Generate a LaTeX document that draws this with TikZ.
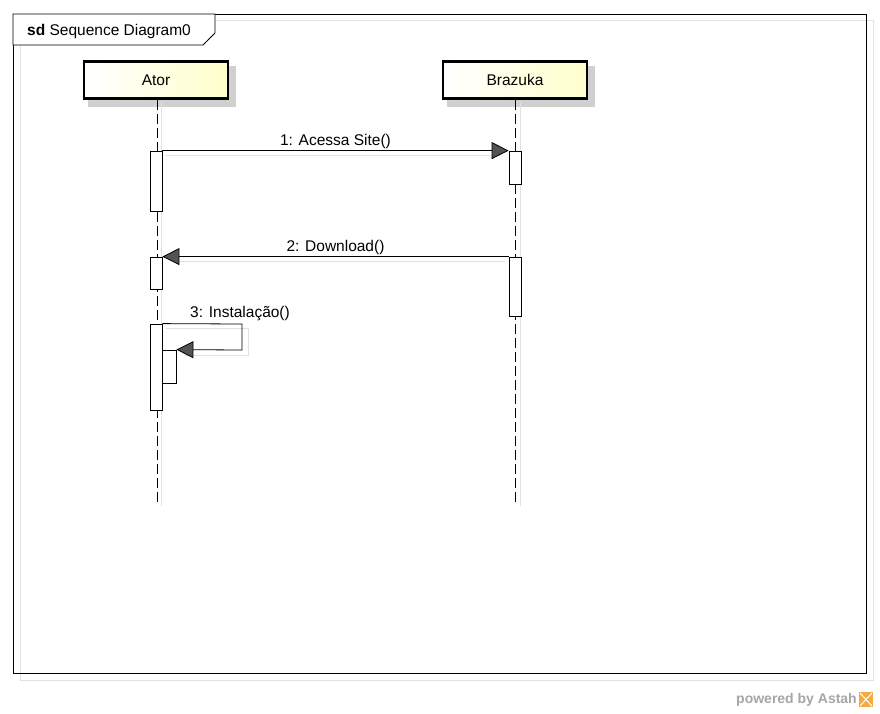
\documentclass[tikz,border=0pt]{standalone}
\usepackage{fontspec}
\setmainfont{Liberation Sans}
\usetikzlibrary{arrows.meta}
\definecolor{headyellow}{RGB}{255,255,204}
\definecolor{shadowgray}{RGB}{208,208,208}
\definecolor{faintgray}{RGB}{225,225,225}
\definecolor{astahorange}{RGB}{245,170,70}
\tikzset{
  head/.style={draw=black, line width=2.6pt, minimum width=144pt, minimum height=37pt,
    left color=white, right color=headyellow, inner sep=0pt, font=\fontsize{15.5}{17}\selectfont},
  headshadow/.style={fill=shadowgray, draw=none},
  act/.style={draw=black, fill=white, line width=0.8pt, minimum width=12pt, inner sep=0pt},
  lifeline/.style={draw=black, line width=0.8pt, dash pattern=on 10pt off 4pt},
  lifeshadow/.style={draw=faintgray, line width=0.8pt},
  msg/.style={draw=black, line width=0.8pt,
    -{Triangle[length=17pt, width=17pt, fill=gray!65!black]}},
  msgshadow/.style={draw=faintgray, line width=0.8pt},
  lbl/.style={font=\fontsize{15.5}{17}\selectfont, inner sep=1pt},
}
\begin{document}
\begin{tikzpicture}[x=1pt, y=-1pt]
\useasboundingbox (0,0) rectangle (880,713);

% frame with its shadow and the title tab
\draw[draw=faintgray, line width=0.8pt] (20,20) rectangle (873,680);
\draw[black, line width=0.8pt] (13,14) rectangle (866,673);
\draw[black, fill=white, line width=0.8pt] (13,14) -- (215,14) -- (215,33) -- (203,45) -- (13,45) -- cycle;
\node[anchor=west, inner sep=0pt, font=\fontsize{15.5}{17}\selectfont] (title) at (27,31) {\textbf{sd} Sequence Diagram0};

% lifeline heads
\fill[headshadow] (88,66) rectangle (236,107);
\fill[headshadow] (447,66) rectangle (595,107);
\node[head] (ator) at (156,80) {Ator};
\node[head] (braz) at (515,80) {Brazuka};

% lifelines
\coordinate (atorend) at (157,502);
\coordinate (brazend) at (515,502);
\draw[lifeshadow] (161,102) -- (161,506);
\draw[lifeshadow] (520,102) -- (520,506);
\draw[lifeline] (ator.south -| atorend) -- (atorend);
\draw[lifeline] (braz.south -| brazend) -- (brazend);

% activation bars
\node[act, minimum height=60pt] (a1) at (156,181) {};
\node[act, minimum height=33pt] (b1) at (515,167.5) {};
\node[act, minimum height=59pt] (b2) at (515,286.5) {};
\node[act, minimum height=32pt] (a2) at (156,273) {};
\node[act, minimum height=86pt] (a3) at (156,367) {};
\node[act, minimum width=14pt, minimum height=33pt] (a4) at (169,366.5) {};

% message shadows
\draw[msgshadow] (166,155) -- (500,155);
\draw[msgshadow] (175,261) -- (505,261);
\draw[msgshadow] (166,328) -- (248,328) -- (248,355) -- (185,355);

% messages
\draw[msg] (a1.north east) -- (b1.north west)
  node[lbl, pos=0.5, above] {1: Acessa Site()};
\draw[msg] (b2.north west) -- (a2.north east)
  node[lbl, pos=0.5, above] {2: Download()};
\coordinate (selfA) at (242,324);
\coordinate (selfB) at (242,350);
\draw[msg] (a3.north east) -- (selfA) -- (selfB) -- (a4.north east);
\node[lbl, anchor=south] (m3) at (240,322) {3: Instalação()};

% footer
\node[anchor=east, inner sep=0pt, text=gray!70, font=\fontsize{14}{16}\selectfont\bfseries] (powered) at (857,700) {powered by Astah};
\fill[astahorange] (859,692) rectangle (873,707);
\draw[white, line width=1pt] (860,693) -- (872,706) (872,693) -- (860,706);
\end{tikzpicture}
\end{document}
